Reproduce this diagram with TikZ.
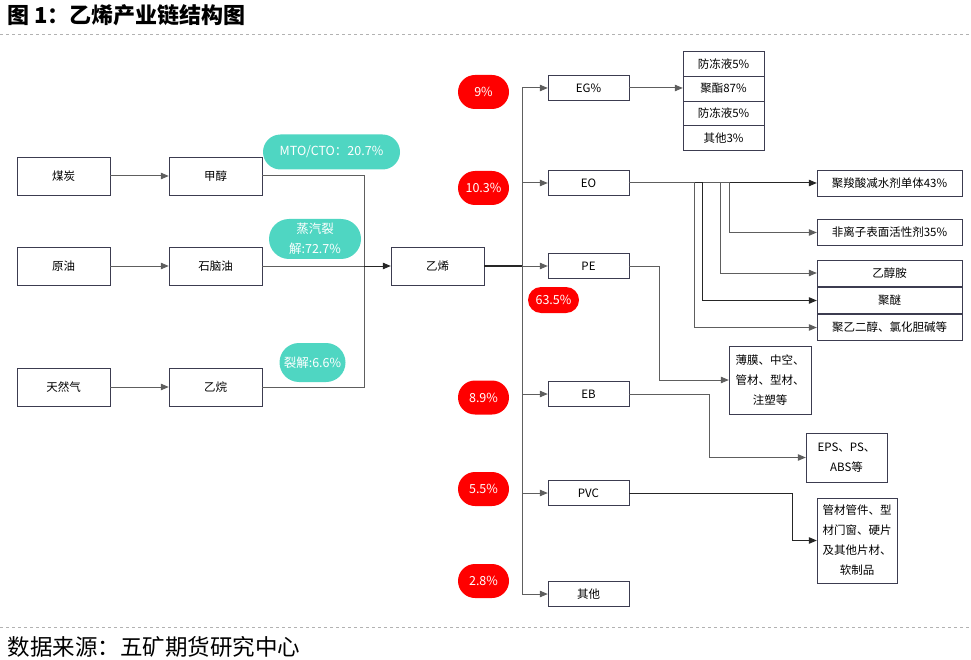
\documentclass[tikz,border=0pt]{standalone}
\usepackage{fontspec}
\setmainfont{Noto Sans CJK SC}
\usetikzlibrary{arrows.meta}
\definecolor{boxline}{HTML}{3C3C50}
\definecolor{linkgray}{HTML}{5E5E5E}
\definecolor{tealpill}{HTML}{4FD6C2}
\definecolor{redpill}{HTML}{FF0000}
\tikzset{
src/.style={
  draw=boxline,
  fill=white,
  minimum width=93pt,
  minimum height=38pt,
  inner sep=1pt
  }
}
\tikzset{
prod/.style={
  draw=boxline,
  fill=white,
  minimum width=81pt,
  minimum height=25pt,
  inner sep=1pt
  },
eobox/.style={prod, minimum width=145pt, minimum height=26pt},
usebox/.style={
  draw=boxline,
  fill=white,
  align=center,
  inner sep=1pt,
  font=\fontsize{11.5}{20}\selectfont
  }
}
\tikzset{
sharepill/.style={
  fill=redpill,
  text=white,
  minimum width=51pt,
  minimum height=34pt,
  rounded corners=17pt,
  inner sep=0pt,
  font=\fontsize{12.5}{14}\selectfont
  },
routepill/.style={
  fill=tealpill,
  text=white,
  align=center,
  inner sep=0pt,
  font=\fontsize{12.5}{20}\selectfont
  }
}
\tikzstyle{wire} = [draw,linkgray,line width=1pt]
\tikzstyle{link} = [wire,-{Triangle[length=8pt,width=6.5pt]}]
\tikzstyle{dark} = [draw=black!85]
\tikzstyle{rule} = [draw=black!30,dashed,line width=0.5pt]

\begin{document}
\begin{tikzpicture}[x=1pt, y=-1pt, font=\fontsize{11.5}{13}\selectfont]
	\path[use as bounding box] (0,0) rectangle (971,660);

	%title and source
	\node (title) [anchor=west, font=\fontsize{22}{25}\selectfont\bfseries] at (4,15) {图 1：乙烯产业链结构图};
	\draw[rule] (0,34) -- (971,34);
	\draw[rule] (0,627) -- (971,627);
	\node (source) [anchor=west, font=\fontsize{22.5}{25}\selectfont] at (4,647) {数据来源：五矿期货研究中心};

	%vertices
	\node (coal) [src] at (63.5,176) {煤炭};
	\node (methanol) [src] at (215.5,176) {甲醇};
	\node (crude) [src] at (63.5,266) {原油};
	\node (naphtha) [src] at (215.5,266) {石脑油};
	\node (gas) [src] at (63.5,387) {天然气};
	\node (ethane) [src] at (215.5,387) {乙烷};
	\node (ethylene) [src] at (437.5,266) {乙烯};
	\coordinate (join) at (364,266);
	\coordinate (trunk) at (522,266);

	\node (mto) [routepill, minimum width=137pt, minimum height=35pt, rounded corners=17.5pt] at (331.5,152) {MTO/CTO：20.7\%};
	\node (steam) [routepill, minimum width=92pt, minimum height=40pt, rounded corners=20pt] at (315,239) {蒸汽裂\\解:72.7\%};
	\node (crack) [routepill, minimum width=66pt, minimum height=39pt, rounded corners=19.5pt] at (312.5,362.5) {裂解:6.6\%};

	\node (eg) [prod] at (588.5,88) {EG\%};
	\node (eo) [prod] at (588.5,183) {EO};
	\node (pe) [prod] at (588.5,266) {PE};
	\node (eb) [prod] at (588.5,394) {EB};
	\node (pvc) [prod] at (588.5,493) {PVC};
	\node (other) [prod] at (588.5,594) {其他};

	\node (sEG) [sharepill] at (483.5,92) {9\%};
	\node (sEO) [sharepill] at (483.5,188) {10.3\%};
	\node (sPE) [sharepill, minimum height=26pt, rounded corners=13pt] at (553.5,300) {63.5\%};
	\node (sEB) [sharepill] at (483.5,397.5) {8.9\%};
	\node (sPVC) [sharepill] at (483.5,489) {5.5\%};
	\node (sOther) [sharepill] at (483.5,581) {2.8\%};

	\foreach \txt [count=\i] in {防冻液5\%, 聚酯87\%, 防冻液5\%, 其他3\%}
		\node (eg\i) [prod, minimum height=24.75pt] at (723.5,{39+24.75*\i}) {\txt};

	\node (eo1) [eobox] at (889.5,183) {聚羧酸减水剂单体43\%};
	\node (eo2) [eobox] at (889.5,232.5) {非离子表面活性剂35\%};
	\node (eo3) [eobox] at (889.5,273) {乙醇胺};
	\node (eo4) [eobox] at (889.5,300.5) {聚醚};
	\node (eo5) [eobox] at (889.5,327.5) {聚乙二醇、氯化胆碱等};

	\node (peuse) [usebox, minimum width=82pt, minimum height=68pt] at (770,380) {薄膜、中空、\\管材、型材、\\注塑等};
	\node (ebuse) [usebox, minimum width=81pt, minimum height=49pt] at (846.5,457.5) {EPS、PS、\\ABS等};
	\node (pvcuse) [usebox, minimum width=80pt, minimum height=85pt] at (857,540.5) {管材管件、型\\材门窗、硬片\\及其他片材、\\软制品};

	%edges
	\draw[link] (coal) -- (methanol);
	\draw[link] (crude) -- (naphtha);
	\draw[link] (gas) -- (ethane);

	\draw[wire] (methanol.east) -| (join);
	\draw[wire] (naphtha.east) -- (join);
	\draw[wire] (ethane.east) -| (join);
	\draw[link, dark] (join) -- (ethylene.west);

	\draw[wire, dark, line width=1.4pt] (ethylene.east) -- (trunk);
	\draw[wire] (trunk |- eg.west) -- (trunk |- other.west);
	\foreach \p in {eg,eo,pe,eb,pvc,other}
		\draw[link] (trunk |- \p.west) -- (\p.west);

	\draw[link] (eg.east) -- (eg.east -| eg2.west);

	\draw[link, dark] (eo.east) -- (eo1.west);
	\draw[link] (eo.east) -- ++(100,0) |- (eo2.west);
	\draw[link] (eo.east) -- ++(91,0) |- (eo3.west);
	\draw[link, dark] (eo.east) -- ++(73,0) |- (eo4.west);
	\draw[link] (eo.east) -- ++(65,0) |- (eo5.west);

	\draw[link] (pe.east) -- ++(30,0) |- (peuse.west);
	\draw[link] (eb.east) -- ++(80,0) |- (ebuse.west);
	\draw[link, dark] (pvc.east) -- ++(163,0) |- (pvcuse.west);
\end{tikzpicture}
\end{document}
